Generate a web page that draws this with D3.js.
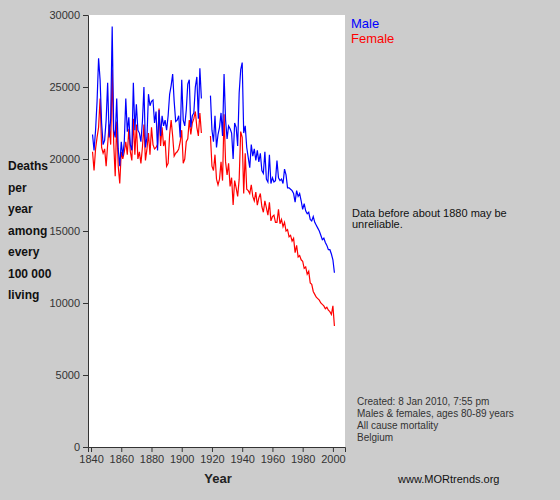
<!DOCTYPE html>
<html><head><meta charset="utf-8">
<script src="https://cdn.jsdelivr.net/npm/d3@7"></script>
<style>body{margin:0;background:#cccccc;}svg{display:block;font-family:"Liberation Sans",Arial,sans-serif;}</style>
</head><body><svg id="chart" width="560" height="500"></svg>
<script>
const startYear = 1841;
const male = [
  21700, 20600, 22000, 24000, 27000, 25500, 22500, 21000, 21300, 22700,
  25300, 21500, 22800, 29200, 22000, 21500, 24200, 20700, 19500, 21200,
  20200, 21200, 24200, 21900, 22900, 21000, 20600, 25300, 22000, 23800,
  22000, 21800, 21200, 22600, 25000, 20800, 21500, 24500, 23700, 24000,
  24100, 22500, 23300, 20600, 23400, 21600, 23000, 22300, 22700, 22000,
  23000, 24500, 25100, 25900, 24000, 22600, 22700, 23000, 21500, 25500,
  22700, 22300, 23400, 25200, 25500, 22200, 23000, 23200, 25000, 25700,
  22800, 26300, 24200, null, null, null, null, null, 24400, 22000,
  21200, 23000, 20800, 21700, 22200, 23200, 21600, 25900, 22700, 21400,
  22300, 22100, 21800, 20000, 22500, 22200, 20900, 24600, 26200, 26700,
  21800, 22300, 20800, 20100, 19400, 21000, 20200, 20700, 19900, 20600,
  19800, 20400, 19200, 19000, 20500, 18600, 18400, 20300, 18300, 18700,
  18400, 18500, 19900, 18700, 18500, 18600, 18300, 19300, 18900, 18000,
  18000, 17900, 17800, 17600, 17000, 17800, 17400, 17600, 17100, 16500,
  16900, 16400, 16200, 16300, 15800, 15700, 16000, 15600, 15400, 15200,
  15000, 14700, 14400, 14500, 14200, 14000, 13700, 13700, 13400, 13000,
  12100
];
const female = [
  20500, 19200, 20700, 21500, 22200, 24200, 20800, 20400, 20700, 19500,
  21000, 22400, 21000, 26200, 21100, 18800, 22600, 19500, 18300, 20500,
  20000, 20500, 21200, 20300, 22100, 20500, 19900, 22800, 20300, 22400,
  20000, 20500, 19700, 20800, 22400, 19900, 20700, 21800, 20300, 22200,
  21000, 20700, 20800, 21000, 23500, 20900, 22200, 20900, 21300, 19500,
  19700, 21700, 22700, 21600, 20200, 20400, 20500, 20700, 21200, 22000,
  19700, 20000, 21200, 21400, 22700, 21700, 22500, 22800, 23300, 22200,
  21600, 23200, 21800, null, null, null, null, null, 21600, 19500,
  19200, 20300, 18600, 18200, 18600, 19800, 18500, 23100, 19800, 18900,
  19700, 18100, 18700, 16800, 18500, 18000, 17400, 18600, 21900, 21500,
  17600, 20400, 17900, 17800, 17600, 18200, 17400, 17100, 17700, 16800,
  17300, 17600, 16700, 16300, 17100, 16600, 16100, 17000, 15700, 16000,
  16100, 15600, 15600, 16500, 15500, 15800, 15300, 15600, 15000, 15100,
  14600, 14700, 14300, 14500, 13500, 14000, 13200, 13300, 13000, 12900,
  12400, 12500, 12000, 12200, 11400, 11300, 10800, 10600, 10400, 10300,
  10200, 10000, 9900, 9800, 9600, 9700, 9500, 9400, 9200, 9800,
  8400
];
const yTicks = [0, 5000, 10000, 15000, 20000, 25000, 30000];
const xTicks = [1840, 1860, 1880, 1900, 1920, 1940, 1960, 1980, 2000];
const yLabelLines = ["Deaths", "per", "year", "among", "every", "100 000", "living"];
const credits = ["Created: 8 Jan 2010, 7:55 pm", "Males & females, ages 80-89 years", "All cause mortality", "Belgium"];

const svg = d3.select("#chart");
const plot = { left: 88, top: 15, right: 345, bottom: 447 };
const x = d3.scaleLinear().domain([1838, 2008]).range([plot.left, plot.right]);
const y = d3.scaleLinear().domain([0, 30000]).range([plot.bottom, plot.top]);

svg.append("rect").attr("x", plot.left).attr("y", plot.top)
  .attr("width", plot.right - plot.left).attr("height", plot.bottom - plot.top)
  .attr("fill", "#fff");

const yAxis = svg.append("g").attr("transform", `translate(${plot.left},0)`)
  .call(d3.axisLeft(y).tickValues(yTicks).tickSize(5).tickFormat(d3.format("d")));
const xAxis = svg.append("g").attr("transform", `translate(0,${plot.bottom})`)
  .call(d3.axisBottom(x).tickValues(xTicks).tickSize(5).tickFormat(d3.format("d")));
[yAxis, xAxis].forEach(a => {
  a.selectAll("path,line").attr("stroke", "#333");
  a.selectAll("text").attr("fill", "#333").attr("font-size", 11);
});

const line = d3.line().defined(d => d != null)
  .x((d, i) => x(startYear + i)).y(d => y(d));
svg.append("path").datum(female).attr("d", line).attr("fill", "none").attr("stroke", "#ff0000").attr("stroke-width", 1.2);
svg.append("path").datum(male).attr("d", line).attr("fill", "none").attr("stroke", "#0000ff").attr("stroke-width", 1.2);

svg.append("text").attr("x", 218).attr("y", 483).attr("text-anchor", "middle")
  .attr("font-weight", "bold").attr("font-size", 13).attr("fill", "#222").text("Year");
svg.selectAll(".yl").data(yLabelLines).enter().append("text")
  .attr("x", 8).attr("y", (d, i) => 170 + i * 21.5)
  .attr("font-weight", "bold").attr("font-size", 12).attr("fill", "#111").text(d => d);

svg.append("text").attr("x", 351).attr("y", 28).attr("font-size", 13).attr("fill", "#0000ff").text("Male");
svg.append("text").attr("x", 351).attr("y", 43).attr("font-size", 13).attr("fill", "#ff0000").text("Female");

svg.append("text").attr("x", 352).attr("y", 217).attr("font-size", 11).attr("fill", "#111").text("Data before about 1880 may be");
svg.append("text").attr("x", 352).attr("y", 228).attr("font-size", 11).attr("fill", "#111").text("unreliable.");

svg.selectAll(".cr").data(credits).enter().append("text")
  .attr("x", 357).attr("y", (d, i) => 405 + i * 12)
  .attr("font-size", 10).attr("fill", "#333").text(d => d);
svg.append("text").attr("x", 398).attr("y", 483).attr("font-size", 11).attr("fill", "#111").text("www.MORtrends.org");
</script></body></html>
